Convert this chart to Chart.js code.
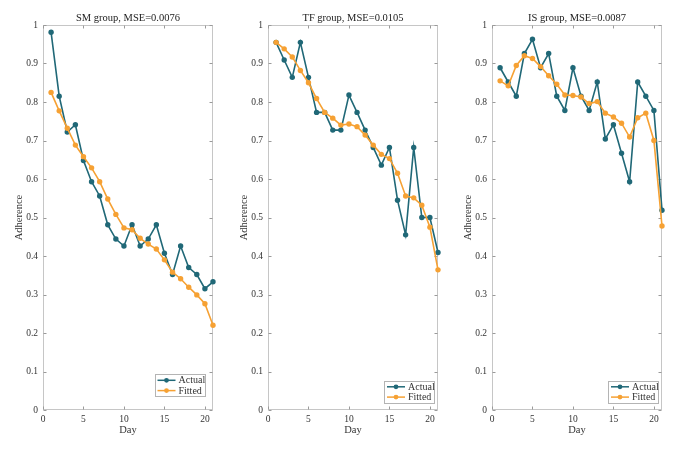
<!DOCTYPE html>
<html>
<head>
<meta charset="utf-8">
<script src="https://cdn.jsdelivr.net/npm/chart.js@4/dist/chart.umd.min.js"></script>
<style>
  html, body { margin: 0; padding: 0; background: #fff; width: 684px; height: 450px; overflow: hidden; }
  .panel { position: absolute; top: 0; width: 224px; height: 450px; }
</style>
</head>
<body>
<div class="panel" style="left:0"><canvas id="sm" width="224" height="450"></canvas></div>
<div class="panel" style="left:225px"><canvas id="tf" width="224" height="450"></canvas></div>
<div class="panel" style="left:449px"><canvas id="is" width="224" height="450"></canvas></div>
<script>
/* ---- data ---- */
const days = [1, 2, 3, 4, 5, 6, 7, 8, 9, 10, 11, 12, 13, 14, 15, 16, 17, 18, 19, 20, 21];

const smActual = [0.981, 0.815, 0.722, 0.741, 0.648, 0.593, 0.556, 0.481, 0.444, 0.426, 0.481, 0.426, 0.444, 0.481, 0.407, 0.352, 0.426, 0.370, 0.352, 0.315, 0.333];
const smFitted = [0.825, 0.777, 0.732, 0.688, 0.658, 0.629, 0.593, 0.548, 0.508, 0.473, 0.468, 0.446, 0.431, 0.418, 0.390, 0.358, 0.341, 0.319, 0.299, 0.276, 0.220];

const tfActual = [0.955, 0.909, 0.864, 0.955, 0.864, 0.773, 0.773, 0.727, 0.727, 0.818, 0.773, 0.727, 0.682, 0.636, 0.682, 0.545, 0.455, 0.682, 0.500, 0.500, 0.409];
const tfFitted = [0.955, 0.938, 0.917, 0.882, 0.850, 0.809, 0.773, 0.758, 0.740, 0.743, 0.736, 0.714, 0.688, 0.664, 0.653, 0.615, 0.556, 0.551, 0.532, 0.475, 0.364];

const isActual = [0.889, 0.852, 0.815, 0.926, 0.963, 0.889, 0.926, 0.815, 0.778, 0.889, 0.815, 0.778, 0.852, 0.704, 0.741, 0.667, 0.593, 0.852, 0.815, 0.778, 0.519];
const isFitted = [0.855, 0.842, 0.895, 0.920, 0.913, 0.892, 0.868, 0.846, 0.818, 0.817, 0.813, 0.796, 0.801, 0.771, 0.761, 0.745, 0.709, 0.759, 0.771, 0.700, 0.478];

const titles = ["SM group, MSE=0.0076", "TF group, MSE=0.0105", "IS group, MSE=0.0087"];
const seriesNames = ["Actual", "Fitted"];
const xLabel = "Day", yLabel = "Adherence";

/* ---- look ---- */
const SERIF = "'Liberation Serif', 'Times New Roman', serif";
const C_ACT = "#206877", C_FIT = "#f6a133", C_BOX = "#c6c6c6", C_TXT = "#333";

// gray box round the plot with inward ticks on all four sides
const frame = {
  id: "frame",
  beforeDatasetsDraw(chart) {
    const { ctx, chartArea: a, scales: { x, y } } = chart;
    const L = Math.round(a.left) + 0.5, R = Math.round(a.right) - 0.5;
    const T = Math.round(a.top) + 0.5, B = Math.round(a.bottom) - 0.5;
    ctx.save();
    ctx.strokeStyle = C_BOX; ctx.lineWidth = 1;
    ctx.strokeRect(L, T, R - L, B - T);
    ctx.strokeStyle = "#9a9a9a";
    ctx.beginPath();
    x.ticks.forEach(t => {
      const p = Math.round(x.getPixelForValue(t.value)) + 0.5;
      ctx.moveTo(p, B); ctx.lineTo(p, B - 3);
      ctx.moveTo(p, T); ctx.lineTo(p, T + 3);
    });
    y.ticks.forEach(t => {
      const p = Math.round(y.getPixelForValue(t.value)) + 0.5;
      ctx.moveTo(L, p); ctx.lineTo(L + 3, p);
      ctx.moveTo(R, p); ctx.lineTo(R - 3, p);
    });
    ctx.stroke();
    ctx.restore();
  }
};

// small boxed legend sitting inside the plot, lower right
const insetLegend = {
  id: "insetLegend",
  afterDatasetsDraw(chart, args, opts) {
    const { ctx, chartArea: a } = chart;
    const w = 50, h = 22;
    const left = a.right - opts.right - w, top = a.bottom - opts.bottom - h;
    ctx.save();
    ctx.fillStyle = "#fff";
    ctx.fillRect(left, top, w, h);
    ctx.strokeStyle = "#b4b4b4"; ctx.lineWidth = 1;
    ctx.strokeRect(Math.round(left) + 0.5, Math.round(top) + 0.5, w, h);
    ctx.font = "10px " + SERIF;
    ctx.textBaseline = "middle";
    chart.data.datasets.forEach((ds, i) => {
      const cy = top + 6.3 + i * 10.3;
      ctx.strokeStyle = ds.borderColor; ctx.lineWidth = 1.5;
      ctx.beginPath(); ctx.moveTo(left + 3, cy); ctx.lineTo(left + 21, cy); ctx.stroke();
      ctx.fillStyle = ds.borderColor;
      ctx.beginPath(); ctx.arc(left + 12, cy, 2.4, 0, Math.PI * 2); ctx.fill();
      ctx.fillStyle = C_TXT;
      ctx.fillText(ds.label, left + 24, cy + 0.5);
    });
    ctx.restore();
  }
};

function pts(vals) { return days.map((d, i) => ({ x: d, y: vals[i] })); }

function panel(id, title, actual, fitted, legendPos) {
  new Chart(document.getElementById(id), {
    type: "line",
    data: {
      datasets: [
        { label: seriesNames[0], data: pts(actual), borderColor: C_ACT, backgroundColor: C_ACT, order: 1 },
        { label: seriesNames[1], data: pts(fitted), borderColor: C_FIT, backgroundColor: C_FIT, order: 0 }
      ].map(d => Object.assign(d, { borderWidth: 1.6, pointRadius: 2.7, pointBorderWidth: 0, tension: 0, clip: false }))
    },
    options: {
      responsive: false, animation: false,
      layout: { padding: { left: 0, right: 11, top: 0, bottom: 0 } },
      plugins: {
        legend: { display: false }, tooltip: { enabled: false },
        title: {
          display: true, text: title, fullSize: false, color: "#222",
          font: { family: SERIF, size: 10.5, weight: "normal" },
          padding: { top: 12, bottom: 0.4 }
        },
        insetLegend: legendPos
      },
      scales: {
        x: {
          type: "linear", min: 0, max: 21,
          grid: { display: false, drawTicks: false }, border: { display: false },
          ticks: { stepSize: 5, includeBounds: false, padding: 4, color: C_TXT, font: { family: SERIF, size: 9.5 }, maxRotation: 0 },
          title: { display: true, text: xLabel, color: C_TXT, font: { family: SERIF, size: 10.5 }, padding: { top: 0, bottom: 13 } },
          afterFit: s => { s.height = 40; }
        },
        y: {
          min: 0, max: 1,
          grid: { display: false, drawTicks: false }, border: { display: false },
          ticks: { stepSize: 0.1, padding: 5, color: C_TXT, font: { family: SERIF, size: 9.5 }, callback: v => String(Math.round(v * 10) / 10) },
          title: { display: true, text: yLabel, color: C_TXT, font: { family: SERIF, size: 10.5 }, padding: { top: 13, bottom: 0 } },
          afterFit: s => { s.width = 43; }
        }
      }
    },
    plugins: [frame, insetLegend]
  });
}

panel("sm", titles[0], smActual, smFitted, { right: 8.5, bottom: 14 });
panel("tf", titles[1], tfActual, tfFitted, { right: 4, bottom: 7.5 });
panel("is", titles[2], isActual, isFitted, { right: 4, bottom: 7.5 });
</script>
</body>
</html>
